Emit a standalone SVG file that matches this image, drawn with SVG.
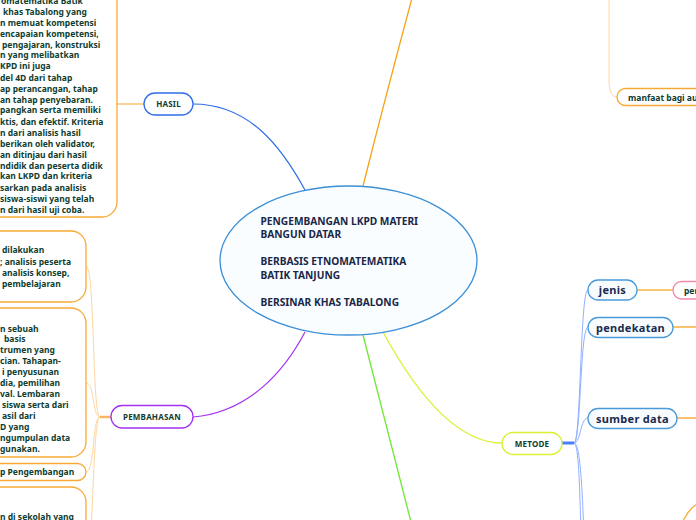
<svg xmlns="http://www.w3.org/2000/svg" width="696" height="520" viewBox="0 0 696 520">
<style>
.box{fill:#ffffff;stroke:#f7a935;stroke-width:1.3}
.bt{font-family:"Noto Sans","Open Sans",sans-serif;font-size:8.5px;font-weight:bold;fill:#0f3d2f}
.lbl{font-family:"Noto Sans","Open Sans",sans-serif;font-size:8px;font-weight:bold;fill:#0f3d2f;text-anchor:middle;letter-spacing:0.2px}
.big{font-family:"Noto Sans","Open Sans",sans-serif;font-size:11px;font-weight:bold;fill:#1b2a4e;text-anchor:middle;letter-spacing:0.3px}
.ct{font-family:"Noto Sans","Open Sans",sans-serif;font-size:10.2px;font-weight:bold;fill:#1a2748}
.thin{fill:none;stroke:#fdd6a2;stroke-width:1}
.bl{fill:none;stroke:#8fb0ff;stroke-width:1}
.bnode{fill:#f8fcff;stroke:#4a9ad9;stroke-width:1.3}
</style>
<g id="connectors">
<path d="M193,104 C250,104 282,148 305,190" fill="none" stroke="#2f6de8" stroke-width="1.2"/>
<path d="M117,104 L144,104" fill="none" stroke="#f7b860" stroke-width="1.3"/>
<path d="M193,417 C250,412 285,370 305,332" fill="none" stroke="#a330f5" stroke-width="1.2"/>
<path d="M100,417 L111,417" fill="none" stroke="#f7b860" stroke-width="2.5"/>
<path class="thin" d="M100,417 C92,417 95,266 86,266"/>
<path class="thin" d="M100,417 C92,417 95,383 86,383"/>
<path class="thin" d="M100,417 C92,417 95,472 86,472"/>
<path class="thin" d="M100,417 C92,417 94,560 86,560"/>
<path d="M363,186 Q386,95 412,-2" fill="none" stroke="#f5a312" stroke-width="1.3"/>
<path class="thin" d="M609,-2 L609,80 C609,92 612,97 617,97"/>
<path d="M363,335 L411,522" fill="none" stroke="#6ee830" stroke-width="1.3"/>
<path d="M383,332 C420,400 460,443 502,443" fill="none" stroke="#dcf034" stroke-width="1.3"/>
<path d="M562,443 L574,443" fill="none" stroke="#4a7cff" stroke-width="3"/>
<path class="bl" d="M574,443 C581,443 580,290 588,290"/>
<path class="bl" d="M574,443 C581,443 580,327 588,327"/>
<path class="bl" d="M574,443 C581,443 580,418 588,418"/>
<path class="bl" d="M574,443 C580,443 580,520 582,560"/>
<path class="bl" d="M574,443 C582,443 583,520 585,560"/>
<path d="M637,290 L673,290" fill="none" stroke="#f9b440" stroke-width="1.3"/>
<path d="M673,327 L697,327" fill="none" stroke="#f7a020" stroke-width="1.3"/>
<path d="M677,418 L697,418" fill="none" stroke="#f7a020" stroke-width="1.3"/>
<path d="M683,521 Q688,510 697,504" fill="none" stroke="#f7a935" stroke-width="1.3"/>
</g>
<g id="central">
<ellipse cx="348.5" cy="260.5" rx="128.5" ry="74.5" fill="#f9fdff" stroke="#3b8fd6" stroke-width="1.3"/>
<text class="ct" x="260.5" y="224.5">PENGEMBANGAN LKPD MATERI</text>
<text class="ct" x="260.5" y="238">BANGUN DATAR</text>
<text class="ct" x="260.5" y="265">BERBASIS ETNOMATEMATIKA</text>
<text class="ct" x="260.5" y="278.5">BATIK TANJUNG</text>
<text class="ct" x="260.5" y="305.5">BERSINAR KHAS TABALONG</text>
</g>
<g id="hasil">
<rect x="144" y="93" width="49" height="22" rx="11" fill="#ffffff" stroke="#2f6de8" stroke-width="1.3"/>
<text class="lbl" x="168.5" y="107">HASIL</text>
</g>
<g id="hasil-text">
<rect class="box" x="-100" y="-30" width="217" height="247" rx="15"/>
<text class="bt" x="1" y="4">omatematika Batik</text>
<text class="bt" x="3" y="15">khas Tabalong yang</text>
<text class="bt" x="0" y="26">n memuat kompetensi</text>
<text class="bt" x="0" y="36.5">encapaian kompetensi,</text>
<text class="bt" x="2" y="47.5">pengajaran, konstruksi</text>
<text class="bt" x="0" y="58">n yang melibatkan</text>
<text class="bt" x="0" y="69">KPD ini juga</text>
<text class="bt" x="0" y="80.5">del 4D dari tahap</text>
<text class="bt" x="0" y="91.5">ap perancangan, tahap</text>
<text class="bt" x="0" y="102.5">an tahap penyebaran.</text>
<text class="bt" x="0" y="113">pangkan serta memiliki</text>
<text class="bt" x="0" y="124.5">ktis, dan efektif. Kriteria</text>
<text class="bt" x="0" y="135.5">n dari analisis hasil</text>
<text class="bt" x="0" y="146.5">berikan oleh validator,</text>
<text class="bt" x="0" y="157.5">an ditinjau dari hasil</text>
<text class="bt" x="0" y="168.5">ndidik dan peserta didik</text>
<text class="bt" x="0" y="179">kan LKPD dan kriteria</text>
<text class="bt" x="0" y="190.5">sarkan pada analisis</text>
<text class="bt" x="0" y="201.5">siswa-siswi yang telah</text>
<text class="bt" x="0" y="212.5">n dari hasil uji coba.</text>
</g>
<g id="pembahasan">
<rect x="111" y="405.5" width="82" height="22.5" rx="11.2" fill="#ffffff" stroke="#a330f5" stroke-width="1.3"/>
<text class="lbl" x="152" y="419.8">PEMBAHASAN</text>
</g>
<g id="pembahasan-1">
<rect class="box" x="-100" y="231" width="186" height="71" rx="15"/>
<text class="bt" x="2" y="253">dilakukan</text>
<text class="bt" x="0" y="264.5">; analisis peserta</text>
<text class="bt" x="2" y="275.5">analisis konsep,</text>
<text class="bt" x="2" y="286.5">pembelajaran</text>
</g>
<g id="pembahasan-2">
<rect class="box" x="-100" y="308" width="186" height="149" rx="15"/>
<text class="bt" x="0" y="331.5">n sebuah</text>
<text class="bt" x="4" y="342">basis</text>
<text class="bt" x="0" y="353">trumen yang</text>
<text class="bt" x="0" y="364">cian. Tahapan-</text>
<text class="bt" x="2" y="374.5">i penyusunan</text>
<text class="bt" x="0" y="385.5">dia, pemilihan</text>
<text class="bt" x="0" y="396.5">val. Lembaran</text>
<text class="bt" x="2" y="408">siswa serta dari</text>
<text class="bt" x="2" y="419">asil dari</text>
<text class="bt" x="0" y="430">D yang</text>
<text class="bt" x="0" y="441">ngumpulan data</text>
<text class="bt" x="0" y="452">gunakan.</text>
</g>
<g id="pembahasan-3">
<rect class="box" x="-100" y="463.5" width="186" height="17" rx="8.5"/>
<text class="bt" x="0" y="475">p Pengembangan</text>
</g>
<g id="pembahasan-4">
<rect class="box" x="-100" y="487" width="186" height="80" rx="15"/>
<text class="bt" x="0" y="519.5">n di sekolah yang</text>
</g>
<g id="manfaat">
<rect class="box" x="617" y="88.5" width="120" height="17" rx="8.5"/>
<text class="bt" x="628" y="100.5">manfaat bagi au</text>
</g>
<g id="metode">
<rect x="502" y="432.5" width="60" height="22" rx="11" fill="#ffffff" stroke="#dcf034" stroke-width="1.3"/>
<text class="lbl" x="532" y="446.5">METODE</text>
</g>
<g id="jenis">
<rect class="bnode" x="588" y="280" width="49" height="20" rx="10"/>
<text class="big" x="612.5" y="294">jenis</text>
</g>
<g id="jenis-child">
<rect x="673" y="281.5" width="80" height="17.5" rx="8.7" fill="#ffffff" stroke="#f48aa8" stroke-width="1.3"/>
<text class="bt" x="684" y="293.5">per</text>
</g>
<g id="pendekatan">
<rect class="bnode" x="588" y="317.5" width="85" height="20" rx="10"/>
<text class="big" x="630.5" y="331.5">pendekatan</text>
</g>
<g id="sumber-data">
<rect class="bnode" x="588" y="408.5" width="89" height="20" rx="10"/>
<text class="big" x="632.5" y="422.5">sumber data</text>
</g>
</svg>
